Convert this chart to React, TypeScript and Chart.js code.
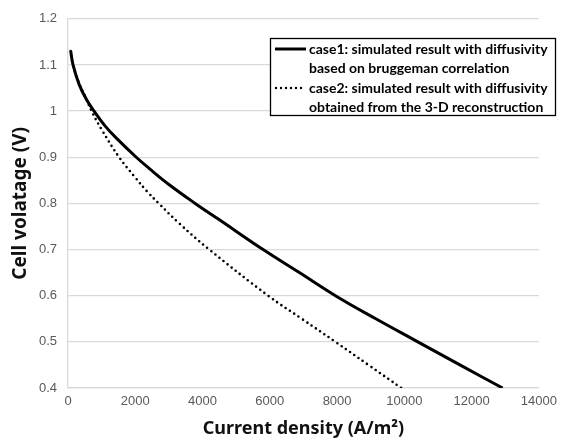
import React, { useEffect, useRef } from "react";
import { Chart, registerables } from "chart.js";

Chart.register(...registerables);

const case1Current = [80, 150, 330, 550, 775, 1100, 1430, 2030, 2410, 3000, 3780, 4490, 5800, 6900, 7950, 9150, 10400, 11650, 12920];
const case1Voltage = [1.13, 1.1, 1.058, 1.025, 1.0, 0.968, 0.942, 0.9, 0.876, 0.841, 0.8, 0.765, 0.7, 0.649, 0.6, 0.55, 0.5, 0.45, 0.4];

const case2Current = [80, 150, 330, 535, 700, 1000, 1520, 2000, 2350, 2700, 3300, 4200, 5950, 6950, 7950, 8930, 9910];
const case2Voltage = [1.13, 1.1, 1.06, 1.028, 1.0, 0.96, 0.9, 0.856, 0.826, 0.8, 0.757, 0.7, 0.6, 0.55, 0.5, 0.45, 0.4];

const case1Legend = ["case1: simulated result with diffusivity", "based on bruggeman correlation"];
const case2Legend = ["case2: simulated result with diffusivity", "obtained from the 3-D reconstruction"];

const xTitle = "Current density (A/m\u00B2)";
const yTitle = "Cell volatage (V)";

const legendPlugin = {
  id: "boxLegend",
  afterDraw(chart: any) {
    const ctx = chart.ctx as CanvasRenderingContext2D;
    const bx = 270.5, by = 38.5, bw = 285, bh = 77;
    ctx.save();
    ctx.fillStyle = "#ffffff";
    ctx.fillRect(bx, by, bw, bh);
    ctx.strokeStyle = "#000000";
    ctx.lineWidth = 1.3;
    ctx.strokeRect(bx, by, bw, bh);

    const rows = [49, 68, 88, 107];
    ctx.beginPath();
    ctx.lineWidth = 3;
    ctx.setLineDash([]);
    ctx.moveTo(275, rows[0]);
    ctx.lineTo(306, rows[0]);
    ctx.stroke();
    ctx.beginPath();
    ctx.lineCap = "round";
    ctx.lineWidth = 2.4;
    ctx.setLineDash([0, 5]);
    ctx.moveTo(276, rows[2]);
    ctx.lineTo(306, rows[2]);
    ctx.stroke();
    ctx.setLineDash([]);

    ctx.fillStyle = "#000000";
    ctx.font = "bold 14px Lato";
    ctx.textBaseline = "middle";
    ctx.textAlign = "left";
    const tx = 309;
    ctx.fillText(case1Legend[0], tx, rows[0]);
    ctx.fillText(case1Legend[1], tx, rows[1]);
    ctx.fillText(case2Legend[0], tx, rows[2]);
    ctx.fillText(case2Legend[1], tx, rows[3]);
    ctx.restore();
  },
};

export default function App() {
  const ref = useRef<HTMLCanvasElement | null>(null);
  useEffect(() => {
    if (!ref.current) return;
    const chart = new Chart(ref.current, {
      type: "scatter",
      data: {
        datasets: [
          {
            label: case1Legend.join(" "),
            data: case1Current.map((x, i) => ({ x, y: case1Voltage[i] })),
            showLine: true,
            borderColor: "#000000",
            borderWidth: 3,
            pointRadius: 0,
            tension: 0.4,
          },
          {
            label: case2Legend.join(" "),
            data: case2Current.map((x, i) => ({ x, y: case2Voltage[i] })),
            showLine: true,
            borderColor: "#000000",
            borderWidth: 2.6,
            borderDash: [0, 5.2],
            borderCapStyle: "round",
            pointRadius: 0,
            tension: 0.4,
          },
        ],
      },
      options: {
        animation: false,
        responsive: false,
        maintainAspectRatio: false,
        layout: { padding: { left: 0, right: 24, top: 15, bottom: 0 } },
        plugins: { legend: { display: false }, tooltip: { enabled: false } },
        scales: {
          x: {
            type: "linear",
            min: 0,
            max: 14000,
            ticks: {
              stepSize: 2000,
              color: "#595959",
              font: { family: "Liberation Sans", size: 13 },
              padding: 6,
              maxRotation: 0,
              callback: (v: any) => String(v),
            },
            grid: { display: false, drawTicks: false },
            border: { display: true, color: "#d9d9d9", width: 1.3 },
            title: {
              display: true,
              text: xTitle,
              color: "#111111",
              font: { family: "Noto Sans", size: 18, weight: "bold" },
              padding: { top: 0, bottom: 5 },
            },
            afterFit: (s: any) => { s.height = 57; },
          },
          y: {
            min: 0.4,
            max: 1.2,
            ticks: {
              stepSize: 0.1,
              color: "#595959",
              font: { family: "Liberation Sans", size: 13 },
              padding: 11,
              callback: (v: any) => String(Math.round(Number(v) * 10) / 10),
            },
            grid: { color: "#d9d9d9", lineWidth: 1.3, drawTicks: false },
            border: { display: true, color: "#d9d9d9", width: 1.3 },
            title: {
              display: true,
              text: yTitle,
              color: "#111111",
              font: { family: "Noto Sans", size: 19, weight: "bold" },
              padding: { top: 9, bottom: 0 },
            },
            afterFit: (s: any) => { s.width = 68; },
          },
        },
      },
      plugins: [legendPlugin],
    } as any);
    return () => chart.destroy();
  }, []);
  return (
    <div style={{ position: "fixed", left: 0, top: 0, width: 563, height: 445, background: "#fff" }}>
      <canvas ref={ref} width={563} height={445} style={{ width: 563, height: 445, display: "block" }} />
    </div>
  );
}
